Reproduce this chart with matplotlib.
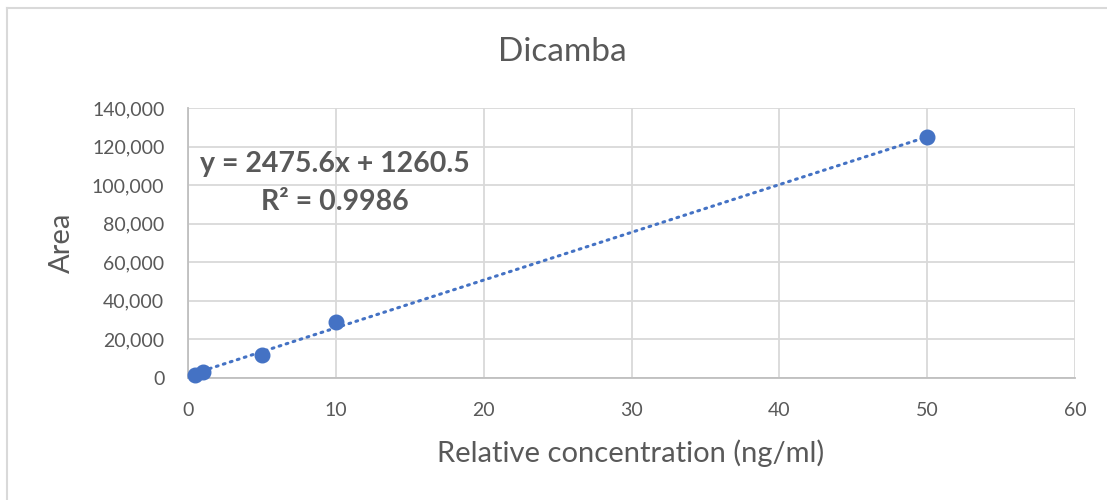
import matplotlib
matplotlib.use("Agg")
import matplotlib.pyplot as plt
from matplotlib.lines import Line2D
from matplotlib.ticker import FuncFormatter, MultipleLocator

# Data
concentration = [0.5, 1, 5, 10, 50]
area = [1500, 3000, 12000, 28800, 125000]
slope = 2475.6
intercept = 1260.5
r_squared = 0.9986
title = "Dicamba"
xlabel = "Relative concentration (ng/ml)"
ylabel = "Area"

plt.rcParams['font.family'] = ['Lato', 'DejaVu Sans']
TEXT = "#595959"
GRID = "#D9D9D9"
BLUE = "#4472C4"

W, H = 1107, 500
fig = plt.figure(figsize=(W / 100, H / 100), dpi=100)

# outer chart border (left and top visible)
fig.add_artist(Line2D([7 / W, 7 / W], [0, 1 - 8 / H], transform=fig.transFigure, color=GRID, lw=1.5))
fig.add_artist(Line2D([7 / W, 1], [1 - 8 / H, 1 - 8 / H], transform=fig.transFigure, color=GRID, lw=1.5))

ax = fig.add_axes([188 / W, 1 - 378 / H, 887 / W, 270 / H])
ax.set_xlim(0, 60)
ax.set_ylim(0, 140000)
ax.xaxis.set_major_locator(MultipleLocator(10))
ax.yaxis.set_major_locator(MultipleLocator(20000))
ax.yaxis.set_major_formatter(FuncFormatter(lambda v, p: f"{int(v):,}"))
ax.grid(True, color=GRID, lw=1.3)
ax.set_axisbelow(True)
for s in ["top", "right"]:
    ax.spines[s].set_visible(False)
for s in ["left", "bottom"]:
    ax.spines[s].set_color("#BFBFBF")
    ax.spines[s].set_linewidth(1.3)
ax.tick_params(length=0, labelsize=14, labelcolor=TEXT)
ax.tick_params(axis="x", pad=17)
ax.tick_params(axis="y", pad=17)

# trendline
x0, x1 = min(concentration), max(concentration)
ax.plot([x0, x1], [slope * x0 + intercept, slope * x1 + intercept],
        color=BLUE, lw=2.2, linestyle=(0, (0.6, 1.8)), dash_capstyle="round", zorder=3)
ax.plot(concentration, area, "o", color=BLUE, markersize=10.5, zorder=4, clip_on=False)

ax.text(9.95, 111000, f"y = {slope}x + {intercept}", ha="center", va="center",
        fontsize=20.5, fontweight="bold", color=TEXT)
ax.text(9.95, 91500, f"R² = {r_squared}", ha="center", va="center",
        fontsize=20.5, fontweight="bold", color=TEXT)

fig.text(562 / W, 1 - 52 / H, title, ha="center", va="center", fontsize=24, color=TEXT)
fig.text(631 / W, 1 - 453 / H, xlabel, ha="center", va="center", fontsize=21, color=TEXT)
fig.text(62 / W, 1 - 243 / H, ylabel, ha="center", va="center", fontsize=21, color=TEXT, rotation=90)

fig.savefig("out.png", dpi=100)
